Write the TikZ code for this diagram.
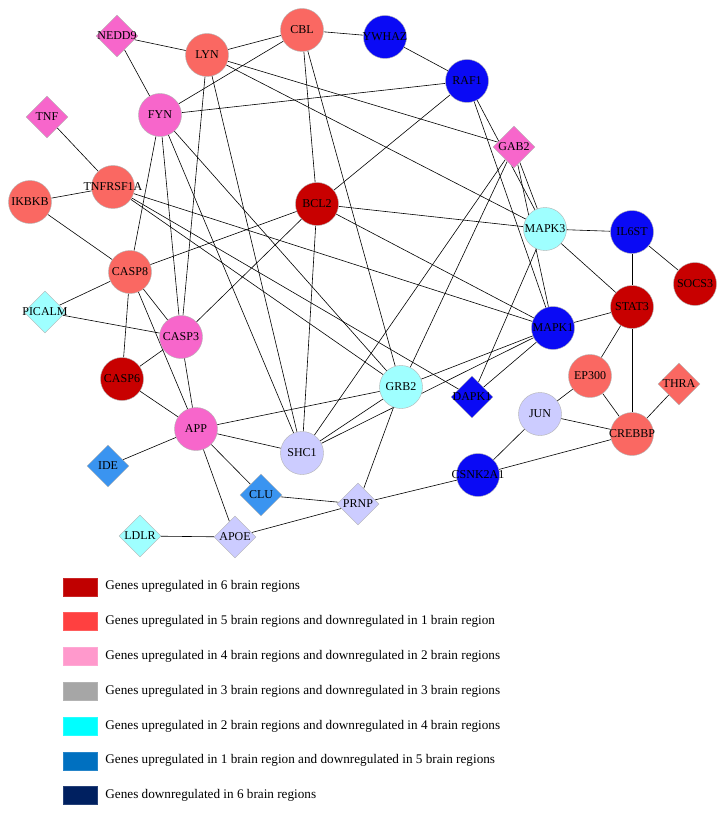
\documentclass[tikz,border=0pt]{standalone}
\usepackage{fontspec}
\setmainfont{Liberation Serif}
\usepackage{tikz}
\usetikzlibrary{shapes.geometric,positioning}
\definecolor{upsix}{HTML}{C80000}
\definecolor{upfive}{HTML}{FA6862}
\definecolor{upfour}{HTML}{F766CB}
\definecolor{upthree}{HTML}{CCCCFF}
\definecolor{uptwo}{HTML}{9FFFFF}
\definecolor{upone}{HTML}{3A94F0}
\definecolor{upnone}{HTML}{0A0AF5}
\pgfdeclarelayer{back}
\pgfsetlayers{back,main}
\newcommand{\gname}[1]{\makebox[0pt]{#1}}
\tikzset{
  genec/.style={circle, draw=black!30, line width=0.4pt, fill=#1, inner sep=0pt,
                minimum size=43pt, font=\fontsize{12}{14}\selectfont},
  gened/.style={diamond, draw=black!30, line width=0.4pt, fill=#1, inner sep=0pt,
                minimum width=42pt, minimum height=42pt, font=\fontsize{12}{14}\selectfont},
  link/.style={draw=black, line width=0.6pt},
  legbox/.style={rectangle, draw=#1!85!white, line width=0.4pt, fill=#1, inner sep=0pt,
                 minimum width=34pt, minimum height=18pt},
  legtext/.style={anchor=west, inner sep=0pt, font=\fontsize{13.2}{15}\selectfont},
}

\begin{document}
\begin{tikzpicture}[x=1pt, y=-1pt]
  \useasboundingbox (0,0) rectangle (725,813);
  % genes
  \node[gened=upfour] (nedd9) at (117,36) {\gname{NEDD9}};
  \node[genec=upfive] (lyn) at (207,55) {\gname{LYN}};
  \node[genec=upfive] (cbl) at (302,30) {\gname{CBL}};
  \node[genec=upnone] (ywhaz) at (385,37) {\gname{YWHAZ}};
  \node[genec=upnone] (raf1) at (467,81) {\gname{RAF1}};
  \node[genec=upfour] (fyn) at (160,115) {\gname{FYN}};
  \node[gened=upfour] (tnf) at (47,117) {\gname{TNF}};
  \node[genec=upfive] (tnfrsf1a) at (113,187) {\gname{TNFRSF1A}};
  \node[genec=upfive] (ikbkb) at (30,202) {\gname{IKBKB}};
  \node[genec=upsix] (bcl2) at (317,204) {\gname{BCL2}};
  \node[gened=upfour] (gab2) at (514,147) {\gname{GAB2}};
  \node[genec=uptwo] (mapk3) at (545,229) {\gname{MAPK3}};
  \node[genec=upnone] (il6st) at (632,232) {\gname{IL6ST}};
  \node[genec=upsix] (socs3) at (695,284) {\gname{SOCS3}};
  \node[genec=upsix] (stat3) at (632,307) {\gname{STAT3}};
  \node[genec=upfive] (casp8) at (130,272) {\gname{CASP8}};
  \node[gened=uptwo] (picalm) at (45,312) {\gname{PICALM}};
  \node[genec=upfour] (casp3) at (181,337) {\gname{CASP3}};
  \node[genec=upsix] (casp6) at (122,379) {\gname{CASP6}};
  \node[genec=upnone] (mapk1) at (553,328) {\gname{MAPK1}};
  \node[genec=uptwo] (grb2) at (401,387) {\gname{GRB2}};
  \node[gened=upnone] (dapk1) at (472,397) {\gname{DAPK1}};
  \node[genec=upfive] (ep300) at (590,376) {\gname{EP300}};
  \node[gened=upfive] (thra) at (679,384) {\gname{THRA}};
  \node[genec=upthree] (jun) at (540,414) {\gname{JUN}};
  \node[genec=upfive] (crebbp) at (632,434) {\gname{CREBBP}};
  \node[genec=upfour] (app) at (196,429) {\gname{APP}};
  \node[genec=upthree] (shc1) at (302,453) {\gname{SHC1}};
  \node[gened=upone] (ide) at (108,466) {\gname{IDE}};
  \node[gened=upone] (clu) at (261,495) {\gname{CLU}};
  \node[gened=upthree] (prnp) at (358,504) {\gname{PRNP}};
  \node[genec=upnone] (csnk2a1) at (478,475) {\gname{CSNK2A1}};
  \node[gened=uptwo] (ldlr) at (140,536) {\gname{LDLR}};
  \node[gened=upthree] (apoe) at (235,537) {\gname{APOE}};
  % interactions
  \begin{pgfonlayer}{back}
    \fill[white] (0,0) rectangle (725,813);
    \draw[link] (nedd9) -- (lyn); \draw[link] (nedd9) -- (fyn); \draw[link] (lyn) -- (cbl);
    \draw[link] (cbl) -- (fyn); \draw[link] (cbl) -- (ywhaz); \draw[link] (ywhaz) -- (raf1);
    \draw[link] (fyn) -- (raf1); \draw[link] (lyn) -- (gab2); \draw[link] (lyn) -- (mapk3);
    \draw[link] (lyn) -- (casp3); \draw[link] (lyn) -- (shc1); \draw[link] (cbl) -- (bcl2);
    \draw[link] (cbl) -- (grb2); \draw[link] (tnf) -- (tnfrsf1a); \draw[link] (ikbkb) -- (tnfrsf1a);
    \draw[link] (ikbkb) -- (casp8); \draw[link] (fyn) -- (casp8); \draw[link] (fyn) -- (casp3);
    \draw[link] (fyn) -- (shc1); \draw[link] (fyn) -- (grb2); \draw[link] (tnfrsf1a) -- (mapk1);
    \draw[link] (tnfrsf1a) -- (grb2); \draw[link] (tnfrsf1a) -- (dapk1); \draw[link] (bcl2) -- (raf1);
    \draw[link] (bcl2) -- (mapk3); \draw[link] (bcl2) -- (mapk1); \draw[link] (bcl2) -- (casp8);
    \draw[link] (bcl2) -- (casp3); \draw[link] (bcl2) -- (shc1); \draw[link] (raf1) -- (mapk3);
    \draw[link] (raf1) -- (mapk1); \draw[link] (gab2) -- (mapk3); \draw[link] (gab2) -- (mapk1);
    \draw[link] (gab2) -- (shc1); \draw[link] (gab2) -- (grb2); \draw[link] (mapk3) -- (il6st);
    \draw[link] (mapk3) -- (stat3); \draw[link] (mapk3) -- (dapk1); \draw[link] (il6st) -- (socs3);
    \draw[link] (il6st) -- (stat3); \draw[link] (mapk1) -- (stat3); \draw[link] (mapk1) -- (grb2);
    \draw[link] (mapk1) -- (shc1); \draw[link] (mapk1) -- (dapk1); \draw[link] (stat3) -- (ep300);
    \draw[link] (stat3) -- (crebbp); \draw[link] (ep300) -- (crebbp); \draw[link] (ep300) -- (jun);
    \draw[link] (jun) -- (crebbp); \draw[link] (crebbp) -- (thra); \draw[link] (jun) -- (csnk2a1);
    \draw[link] (csnk2a1) -- (crebbp); \draw[link] (csnk2a1) -- (prnp); \draw[link] (picalm) -- (casp8);
    \draw[link] (picalm) -- (casp3); \draw[link] (casp8) -- (casp3); \draw[link] (casp8) -- (casp6);
    \draw[link] (casp8) -- (app); \draw[link] (casp3) -- (casp6); \draw[link] (casp3) -- (app);
    \draw[link] (casp6) -- (app); \draw[link] (app) -- (ide); \draw[link] (app) -- (clu);
    \draw[link] (app) -- (apoe); \draw[link] (app) -- (shc1); \draw[link] (app) -- (grb2);
    \draw[link] (grb2) -- (shc1); \draw[link] (grb2) -- (prnp); \draw[link] (clu) -- (prnp);
    \draw[link] (apoe) -- (prnp); \draw[link] (ldlr) -- (apoe);
  \end{pgfonlayer}
  % legend
  \foreach \col/\txt [count=\i] in {
      C00000/Genes upregulated in 6 brain regions,
      FF4040/Genes upregulated in 5 brain regions and downregulated in 1 brain region,
      FF99CC/Genes upregulated in 4 brain regions and downregulated in 2 brain regions,
      A6A6A6/Genes upregulated in 3 brain regions and downregulated in 3 brain regions,
      00FFFF/Genes upregulated in 2 brain regions and downregulated in 4 brain regions,
      0070C0/Genes upregulated in 1 brain region and downregulated in 5 brain regions,
      002060/Genes downregulated in 6 brain regions} {
    \definecolor{legcol}{HTML}{\col}
    \node[legbox=legcol] (leg\i) at (80,552+34.8*\i) {};
    \node[legtext, right=8pt of leg\i] (legt\i) {\txt};
  }
\end{tikzpicture}
\end{document}
